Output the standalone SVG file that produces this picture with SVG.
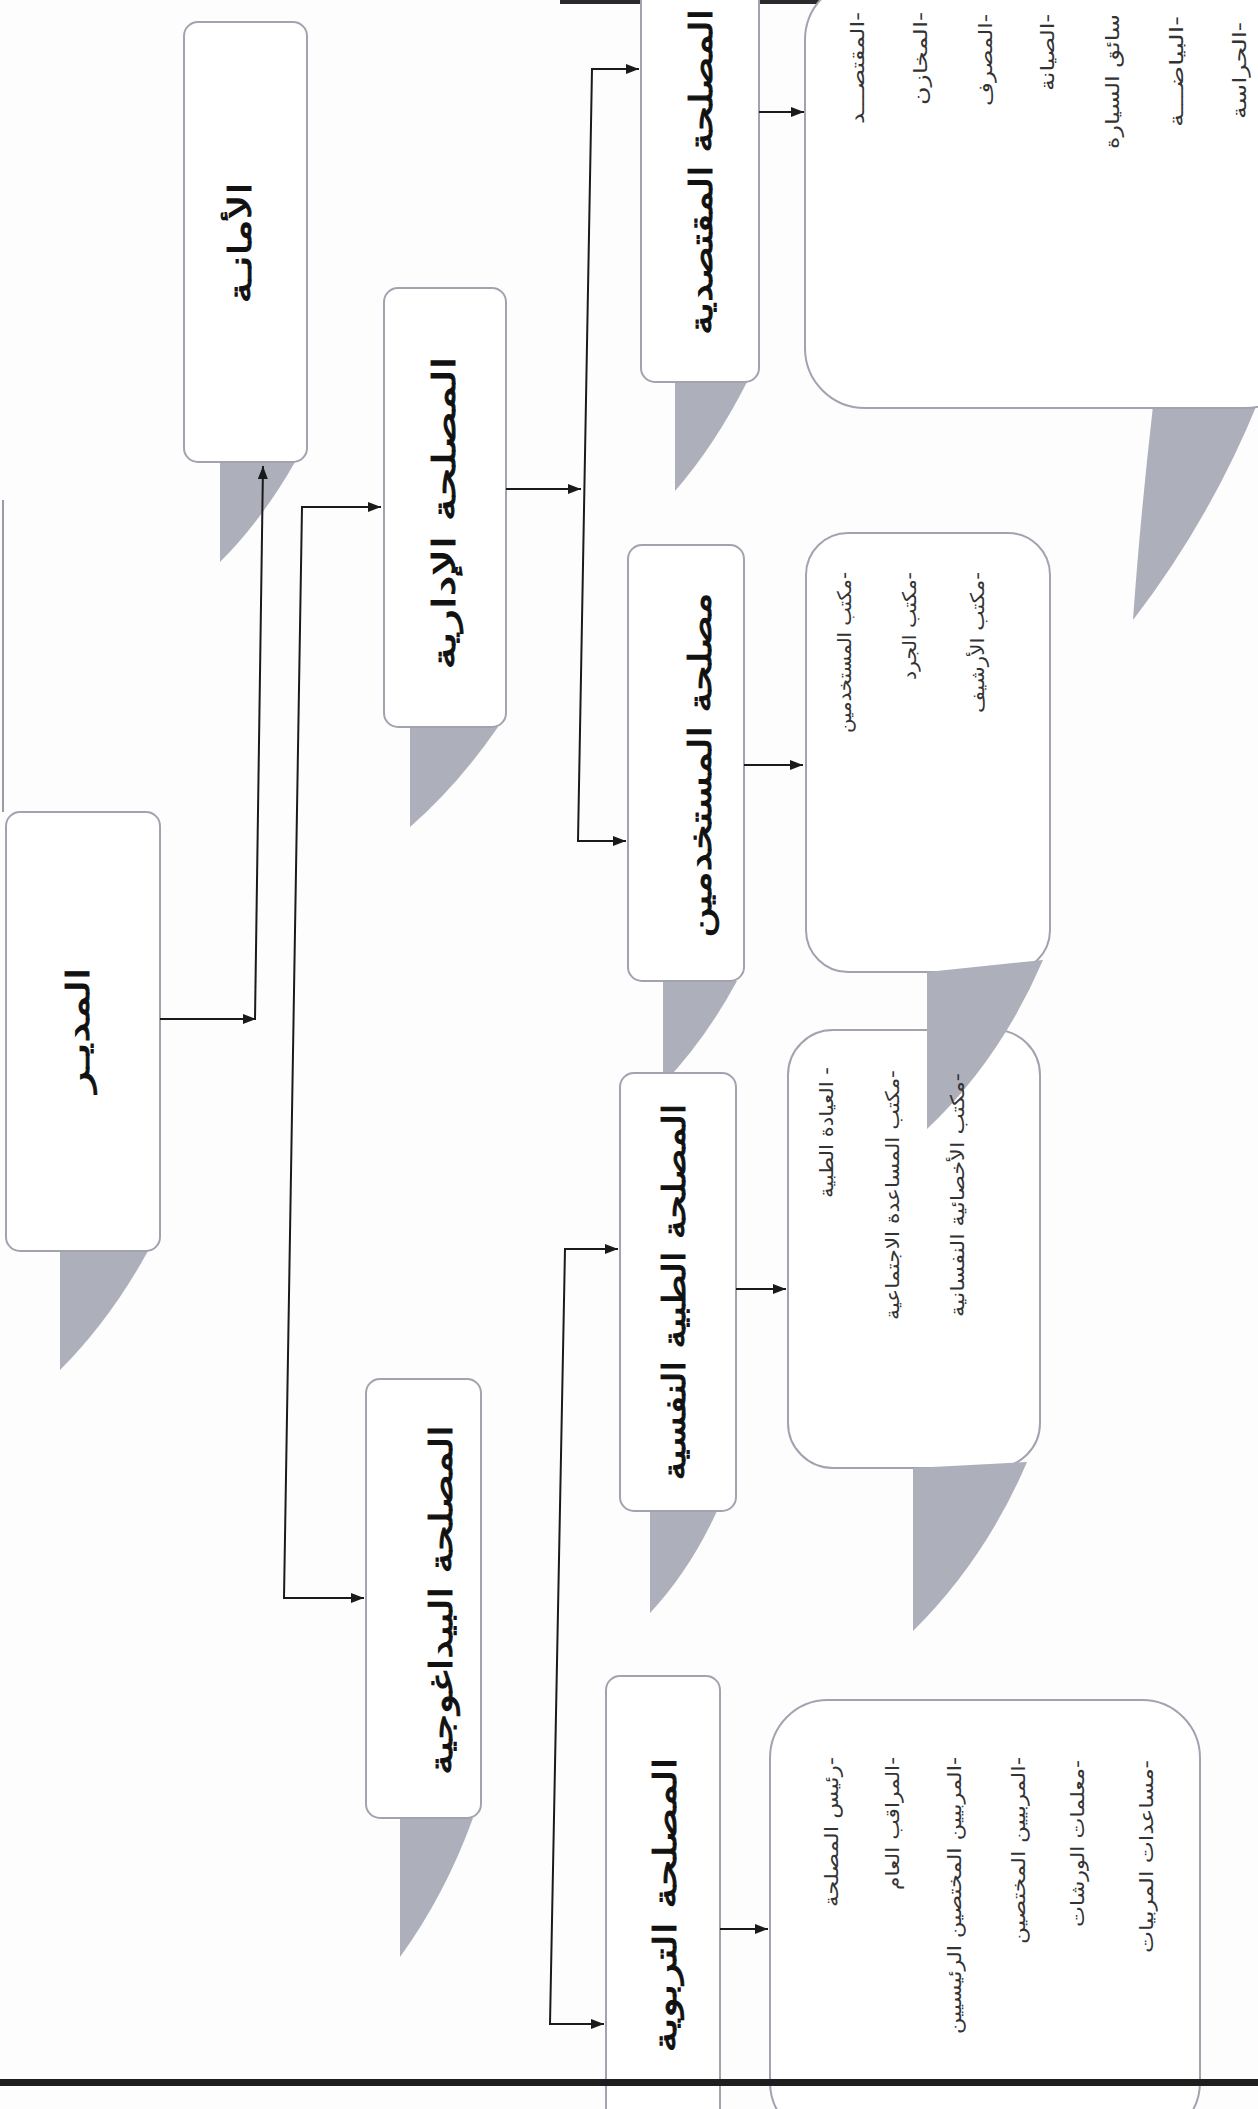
<svg xmlns="http://www.w3.org/2000/svg" width="1258" height="2109" viewBox="0 0 1258 2109">
<defs>
<marker id="arr" viewBox="0 0 10 10" refX="10" refY="5" markerWidth="13" markerHeight="10" markerUnits="userSpaceOnUse" orient="auto-start-reverse" preserveAspectRatio="none"><path d="M0,0 L10,5 L0,10 z" fill="#1a1a1a"/></marker>
<style>
.box{fill:#fff;stroke:#a3a3b0;stroke-width:2}
.sh{fill:#adafbb}
.t{font-family:'DejaVu Sans',sans-serif;font-weight:normal;font-size:31px;fill:#111;stroke:#111;stroke-width:0.9px}
.li{font-family:'DejaVu Sans',sans-serif;font-size:19px;fill:#333}
.cn{fill:none;stroke:#1a1a1a;stroke-width:2}
</style>
</defs>
<rect x="0" y="0" width="1258" height="2109" fill="#fdfdfd"/>
<g id="scan-edges">
<rect x="560" y="0" width="698" height="4" fill="#2a2a2e"/>
<line x1="3" y1="500" x2="3" y2="812" stroke="#9a9aa6" stroke-width="2"/>
</g>

<g id="node-amana">
<path class="sh" d="M220 462 L220 562 Q262 520 295 462 Z"/>
<rect class="box" x="184" y="22" width="123" height="440" rx="14"/>
<text class="t" transform="translate(242,243) rotate(-90)" y="9" text-anchor="middle" direction="rtl" textLength="121" lengthAdjust="spacingAndGlyphs">الأمانـة</text>
</g>
<g id="node-mudir">
<path class="sh" d="M60 1251 L60 1370 Q110 1320 148 1251 Z"/>
<rect class="box" x="6" y="812" width="154" height="439" rx="14"/>
<text class="t" transform="translate(80,1030) rotate(-90)" y="9" text-anchor="middle" direction="rtl" textLength="125" lengthAdjust="spacingAndGlyphs">المديـر</text>
</g>
<g id="node-idaria">
<path class="sh" d="M410 727 L410 827 Q458 785 498 727 Z"/>
<rect class="box" x="384" y="288" width="122" height="439" rx="14"/>
<text class="t" transform="translate(446,513) rotate(-90)" y="9" text-anchor="middle" direction="rtl" textLength="313" lengthAdjust="spacingAndGlyphs">المصلحة الإدارية</text>
</g>
<g id="node-muqtasidia">
<path class="sh" d="M675 382 L675 491 Q715 445 747 382 Z"/>
<rect class="box" x="641" y="-14" width="118" height="396" rx="14"/>
<text class="t" transform="translate(703,172) rotate(-90)" y="9" text-anchor="middle" direction="rtl" textLength="326" lengthAdjust="spacingAndGlyphs">المصلحة المقتصدية</text>
</g>
<g id="list-muqtasidia">
<path class="sh" d="M1153 406 Q1140 520 1133 620 Q1210 520 1258 402 L1258 406 Z"/>
<rect class="box" x="805" y="-20" width="500" height="428" rx="60"/>
<text class="li" transform="translate(858,12) rotate(-90)" y="6" direction="rtl" text-anchor="start" textLength="112" lengthAdjust="spacingAndGlyphs">-المقتصـــد</text>
<text class="li" transform="translate(921,12) rotate(-90)" y="6" direction="rtl" text-anchor="start" textLength="93" lengthAdjust="spacingAndGlyphs">-المخازن</text>
<text class="li" transform="translate(986,14) rotate(-90)" y="6" direction="rtl" text-anchor="start" textLength="92" lengthAdjust="spacingAndGlyphs">-المصرف</text>
<text class="li" transform="translate(1048,14) rotate(-90)" y="6" direction="rtl" text-anchor="start" textLength="77" lengthAdjust="spacingAndGlyphs">-الصيانة</text>
<text class="li" transform="translate(1113,14) rotate(-90)" y="6" direction="rtl" text-anchor="start" textLength="135" lengthAdjust="spacingAndGlyphs">سائق السيارة</text>
<text class="li" transform="translate(1177,16) rotate(-90)" y="6" direction="rtl" text-anchor="start" textLength="111" lengthAdjust="spacingAndGlyphs">-البياضـــة</text>
<text class="li" transform="translate(1240,22) rotate(-90)" y="6" direction="rtl" text-anchor="start" textLength="97" lengthAdjust="spacingAndGlyphs">-الحراسة</text>
</g>
<g id="node-mustakhdimin">
<path class="sh" d="M663 981 L663 1084 Q705 1040 737 981 Z"/>
<rect class="box" x="628" y="545" width="116" height="436" rx="14"/>
<text class="t" transform="translate(702,765) rotate(-90)" y="9" text-anchor="middle" direction="rtl" textLength="345" lengthAdjust="spacingAndGlyphs">مصلحة المستخدمين</text>
</g>
<g id="list-mustakhdimin">
<rect class="box" x="806" y="533" width="244" height="439" rx="42"/>
<text class="li" transform="translate(845,572) rotate(-90)" y="6" direction="rtl" text-anchor="start" textLength="161" lengthAdjust="spacingAndGlyphs">-مكتب المستخدمين</text>
<text class="li" transform="translate(910,572) rotate(-90)" y="6" direction="rtl" text-anchor="start" textLength="108" lengthAdjust="spacingAndGlyphs">-مكتب الجرد</text>
<text class="li" transform="translate(978,572) rotate(-90)" y="6" direction="rtl" text-anchor="start" textLength="141" lengthAdjust="spacingAndGlyphs">-مكتب الأرشيف</text>
</g>
<g id="node-tibbia">
<path class="sh" d="M650 1511 L650 1613 Q690 1570 717 1511 Z"/>
<rect class="box" x="620" y="1073" width="116" height="438" rx="14"/>
<text class="t" transform="translate(676,1292) rotate(-90)" y="9" text-anchor="middle" direction="rtl" textLength="377" lengthAdjust="spacingAndGlyphs">المصلحة الطبية النفسية</text>
</g>
<g id="list-tibbia">
<rect class="box" x="788" y="1030" width="252" height="438" rx="45"/>
</g>
<g id="shadow-list-mustakhdimin">
<path class="sh" d="M927 972 L927 1129 Q1000 1060 1043 960 Z"/>
</g>
<g id="list-tibbia-text">
<text class="li" transform="translate(827,1067) rotate(-90)" y="6" direction="rtl" text-anchor="start" textLength="131" lengthAdjust="spacingAndGlyphs">- العيادة الطبية</text>
<text class="li" transform="translate(893,1070) rotate(-90)" y="6" direction="rtl" text-anchor="start" textLength="250" lengthAdjust="spacingAndGlyphs">-مكتب المساعدة الاجتماعية</text>
<text class="li" transform="translate(958,1073) rotate(-90)" y="6" direction="rtl" text-anchor="start" textLength="244" lengthAdjust="spacingAndGlyphs">-مكتب الأخصائية النفسانية</text>
</g>
<g id="shadow-list-tibbia">
<path class="sh" d="M913 1468 L913 1631 Q985 1560 1027 1462 Z"/>
</g>
<g id="node-bidaghogia">
<path class="sh" d="M400 1818 L400 1957 Q445 1895 473 1818 Z"/>
<rect class="box" x="366" y="1379" width="115" height="439" rx="14"/>
<text class="t" transform="translate(443,1600) rotate(-90)" y="9" text-anchor="middle" direction="rtl" textLength="350" lengthAdjust="spacingAndGlyphs">المصلحة البيداغوجية</text>
</g>
<g id="node-tarbawia">
<rect class="box" x="606" y="1676" width="114" height="460" rx="14"/>
<text class="t" transform="translate(667,1905) rotate(-90)" y="9" text-anchor="middle" direction="rtl" textLength="295" lengthAdjust="spacingAndGlyphs">المصلحة التربوية</text>
</g>
<g id="list-tarbawia">
<rect class="box" x="770" y="1700" width="430" height="440" rx="58"/>
<text class="li" transform="translate(832,1757) rotate(-90)" y="6" direction="rtl" text-anchor="start" textLength="150" lengthAdjust="spacingAndGlyphs">-رئيس المصلحة</text>
<text class="li" transform="translate(893,1757) rotate(-90)" y="6" direction="rtl" text-anchor="start" textLength="133" lengthAdjust="spacingAndGlyphs">-المراقب العام</text>
<text class="li" transform="translate(955,1757) rotate(-90)" y="6" direction="rtl" text-anchor="start" textLength="277" lengthAdjust="spacingAndGlyphs">-المربيين المختصين الرئيسيين</text>
<text class="li" transform="translate(1019,1757) rotate(-90)" y="6" direction="rtl" text-anchor="start" textLength="187" lengthAdjust="spacingAndGlyphs">-المربيين المختصين</text>
<text class="li" transform="translate(1078,1760) rotate(-90)" y="6" direction="rtl" text-anchor="start" textLength="167" lengthAdjust="spacingAndGlyphs">-معلمات الورشات</text>
<text class="li" transform="translate(1147,1760) rotate(-90)" y="6" direction="rtl" text-anchor="start" textLength="193" lengthAdjust="spacingAndGlyphs">-مساعدات المربيات</text>
</g>
<rect id="scan-bottom-edge" x="0" y="2079" width="1258" height="7" fill="#1e1e1e"/>

<g id="connectors">
<path class="cn" d="M160 1019 H256" marker-end="url(#arr)"/>
<path class="cn" d="M255 1019 L263 466" marker-end="url(#arr)"/>
<path class="cn" d="M381 507 H302 L284 1598 H364" marker-start="url(#arr)" marker-end="url(#arr)"/>
<path class="cn" d="M506 489 H581" marker-end="url(#arr)"/>
<path class="cn" d="M639 69 H592 L578 841 H626" marker-start="url(#arr)" marker-end="url(#arr)"/>
<path class="cn" d="M759 112 H804" marker-end="url(#arr)"/>
<path class="cn" d="M744 765 H803" marker-end="url(#arr)"/>
<path class="cn" d="M736 1289 H786" marker-end="url(#arr)"/>
<path class="cn" d="M618 1249 H565 L550 2024 H604" marker-start="url(#arr)" marker-end="url(#arr)"/>
<path class="cn" d="M720 1929 H768" marker-end="url(#arr)"/>
</g>
</svg>
